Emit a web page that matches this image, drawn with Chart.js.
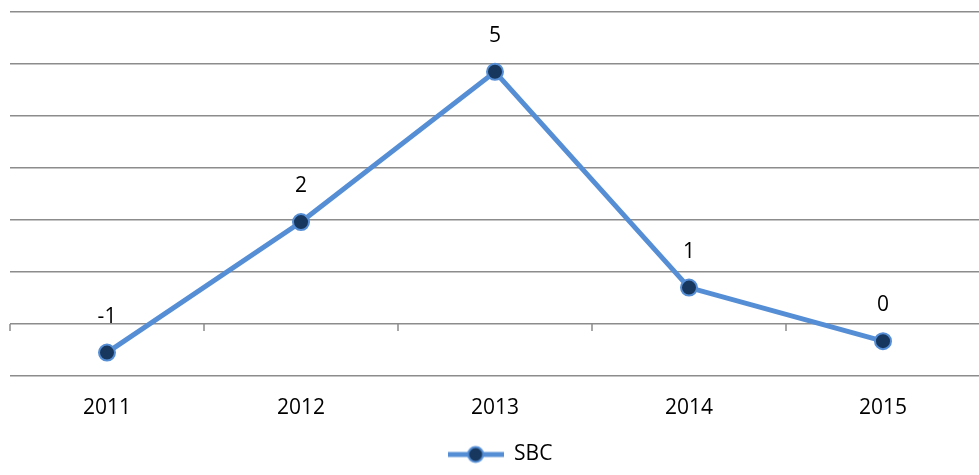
<!DOCTYPE html>
<html>
<head>
<meta charset="utf-8">
<script src="https://cdn.jsdelivr.net/npm/chart.js@4"></script>
<style>
  html, body { margin: 0; padding: 0; background: #fff; overflow: hidden; }
</style>
</head>
<body>
<canvas id="sbcChart" width="990" height="475"></canvas>
<script>
const years = ['2011', '2012', '2013', '2014', '2015'];
const sbcValues = [-0.55, 1.96, 4.85, 0.70, -0.33];
const yTicks = [-1, 0, 1, 2, 3, 4, 5, 6];

const lineColor = '#558ED5';
const markerColor = '#17375E';
const gridColor = '#8C8C8C';
const fontFamily = "'Open Sans', 'Liberation Sans', sans-serif";
const fontSize = 21;
const plotBottom = 376;

//small line + marker swatch for the legend
function makeLegendSwatch() {
    let c = document.createElement('canvas');
    c.width = 56;
    c.height = 20;
    let ctx = c.getContext('2d');
    ctx.strokeStyle = lineColor;
    ctx.lineWidth = 5;
    ctx.beginPath();
    ctx.moveTo(0, 10);
    ctx.lineTo(56, 10);
    ctx.stroke();
    ctx.beginPath();
    ctx.arc(28, 10, 7.5, 0, Math.PI * 2);
    ctx.fillStyle = markerColor;
    ctx.fill();
    ctx.lineWidth = 2;
    ctx.stroke();
    return c;
}

//tick marks on the zero line between categories
const zeroTicks = {
    id: 'zeroTicks',
    beforeDatasetsDraw(chart) {
        let x = chart.scales.x;
        let y0 = chart.scales.y.getPixelForValue(0);
        let step = x.getPixelForValue(1) - x.getPixelForValue(0);
        let ctx = chart.ctx;
        ctx.save();
        ctx.strokeStyle = gridColor;
        ctx.lineWidth = 1.5;
        ctx.beginPath();
        for (let i = 0; i <= years.length; i++) {
            let px = x.getPixelForValue(0) - step / 2 + i * step;
            ctx.moveTo(px, y0);
            ctx.lineTo(px, y0 + 7);
        }
        ctx.stroke();
        ctx.restore();
    }
};

//rounded value labels above each point
const valueLabels = {
    id: 'valueLabels',
    afterDatasetsDraw(chart) {
        let ctx = chart.ctx;
        let meta = chart.getDatasetMeta(0);
        ctx.save();
        ctx.fillStyle = '#000';
        ctx.font = `${fontSize}px ${fontFamily}`;
        ctx.textAlign = 'center';
        ctx.textBaseline = 'middle';
        meta.data.forEach((pt, i) => {
            ctx.fillText(String(Math.round(sbcValues[i])), pt.x, pt.y - 36);
        });
        ctx.restore();
    }
};

new Chart(document.getElementById('sbcChart'), {
    type: 'line',
    data: {
        labels: years,
        datasets: [{
            label: 'SBC',
            data: sbcValues,
            borderColor: lineColor,
            borderWidth: 5,
            pointRadius: 8,
            pointBorderWidth: 2,
            pointBackgroundColor: markerColor,
            pointBorderColor: lineColor,
            tension: 0
        }]
    },
    options: {
        responsive: false,
        animation: false,
        events: [],
        layout: { padding: { left: 10, top: 12, right: 0, bottom: 0 } },
        plugins: {
            tooltip: { enabled: false },
            legend: {
                position: 'bottom',
                labels: {
                    usePointStyle: true,
                    pointStyle: makeLegendSwatch(),
                    pointStyleWidth: 56,
                    color: '#000',
                    font: { family: fontFamily, size: fontSize },
                    padding: 4
                }
            }
        },
        scales: {
            x: {
                offset: true,
                grid: { display: false, drawTicks: false },
                border: { display: false },
                ticks: {
                    color: '#000',
                    font: { family: fontFamily, size: fontSize },
                    padding: 19
                },
                afterFit(scale) {
                    scale.height = 475 - plotBottom - scale.chart.legend.height;
                }
            },
            y: {
                min: yTicks[0],
                max: yTicks[yTicks.length - 1],
                afterBuildTicks(scale) { scale.ticks = yTicks.map(v => ({ value: v })); },
                grid: { color: gridColor, lineWidth: 1.5, drawTicks: false },
                border: { display: false },
                ticks: { display: false },
                afterFit(scale) { scale.width = 0; }
            }
        }
    },
    plugins: [zeroTicks, valueLabels]
});
</script>
</body>
</html>
